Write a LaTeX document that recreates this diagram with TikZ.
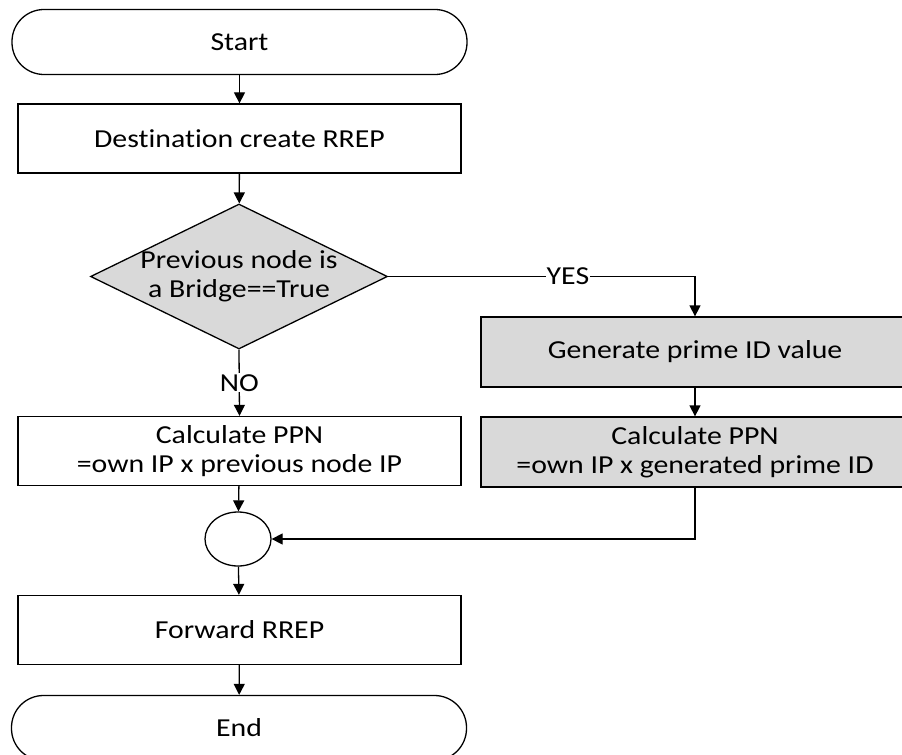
\documentclass[tikz,border=0pt]{standalone}
\usepackage{fontspec}
\setmainfont{Carlito}[FakeStretch=1.15, Ligatures=NoCommon]
\usetikzlibrary{shapes.geometric,arrows.meta}
\definecolor{shade}{HTML}{D9D9D9}
\tikzset{
  txt/.style={font=\fontsize{26}{29}\selectfont},
  base/.style={draw=black, line width=1.3pt, txt, align=center, inner sep=0pt},
  terminal/.style={base, rectangle, rounded corners=32bp, minimum width=455bp, minimum height=65bp},
  procbox/.style={base, rectangle, minimum width=443bp, minimum height=69bp},
  greybox/.style={base, rectangle, fill=shade, minimum width=428bp, minimum height=70bp},
  decision/.style={base, diamond, fill=shade, aspect=2, inner xsep=-8bp,
    minimum width=297bp, minimum height=145bp},
  junction/.style={base, ellipse, minimum width=66bp, minimum height=54bp},
  flow/.style={line width=1.3pt, -{Triangle[width=11bp,length=11bp]}},
  tag/.style={fill=white, inner sep=1pt, txt}
}
\begin{document}
\begin{tikzpicture}[x=1bp, y=-1bp]
  \useasboundingbox (0,0) rectangle (902,755);
  \begin{scope}
    \clip (0,0) rectangle (902,755);
    \node[terminal] (start) at (239.5,42) {Start};
    \node[procbox] (create) at (239.5,138.5) {Destination create RREP};
    \node[decision] (bridge) at (239,276.5) {Previous node is\\a Bridge==True};
    \node[greybox] (prime) at (695,352) {Generate prime ID value};
    \node[greybox] (ppnb) at (695,452) {Calculate PPN\\=own IP x generated prime ID};
    \node[procbox] (ppna) at (239.5,451) {Calculate PPN\\=own IP x previous node IP};
    \node[junction] (merge) at (238,539) {};
    \node[procbox] (fwd) at (239.5,630) {Forward RREP};
    \node[terminal] (end) at (239,728) {End};

    \draw[flow] (start) -- (create);
    \draw[flow] (create) -- (bridge);
    \draw[flow] (bridge.east) -| node[tag, pos=0.293] {YES} (prime.north);
    \draw[flow] (prime) -- (ppnb);
    \draw[flow] (bridge.south) -- node[tag] {NO} (ppna.north);
    \draw[flow] (ppna) -- (merge);
    \draw[flow] (ppnb.south) |- (merge.east);
    \draw[flow] (merge) -- (fwd);
    \draw[flow] (fwd) -- (end);
  \end{scope}
\end{tikzpicture}
\end{document}
